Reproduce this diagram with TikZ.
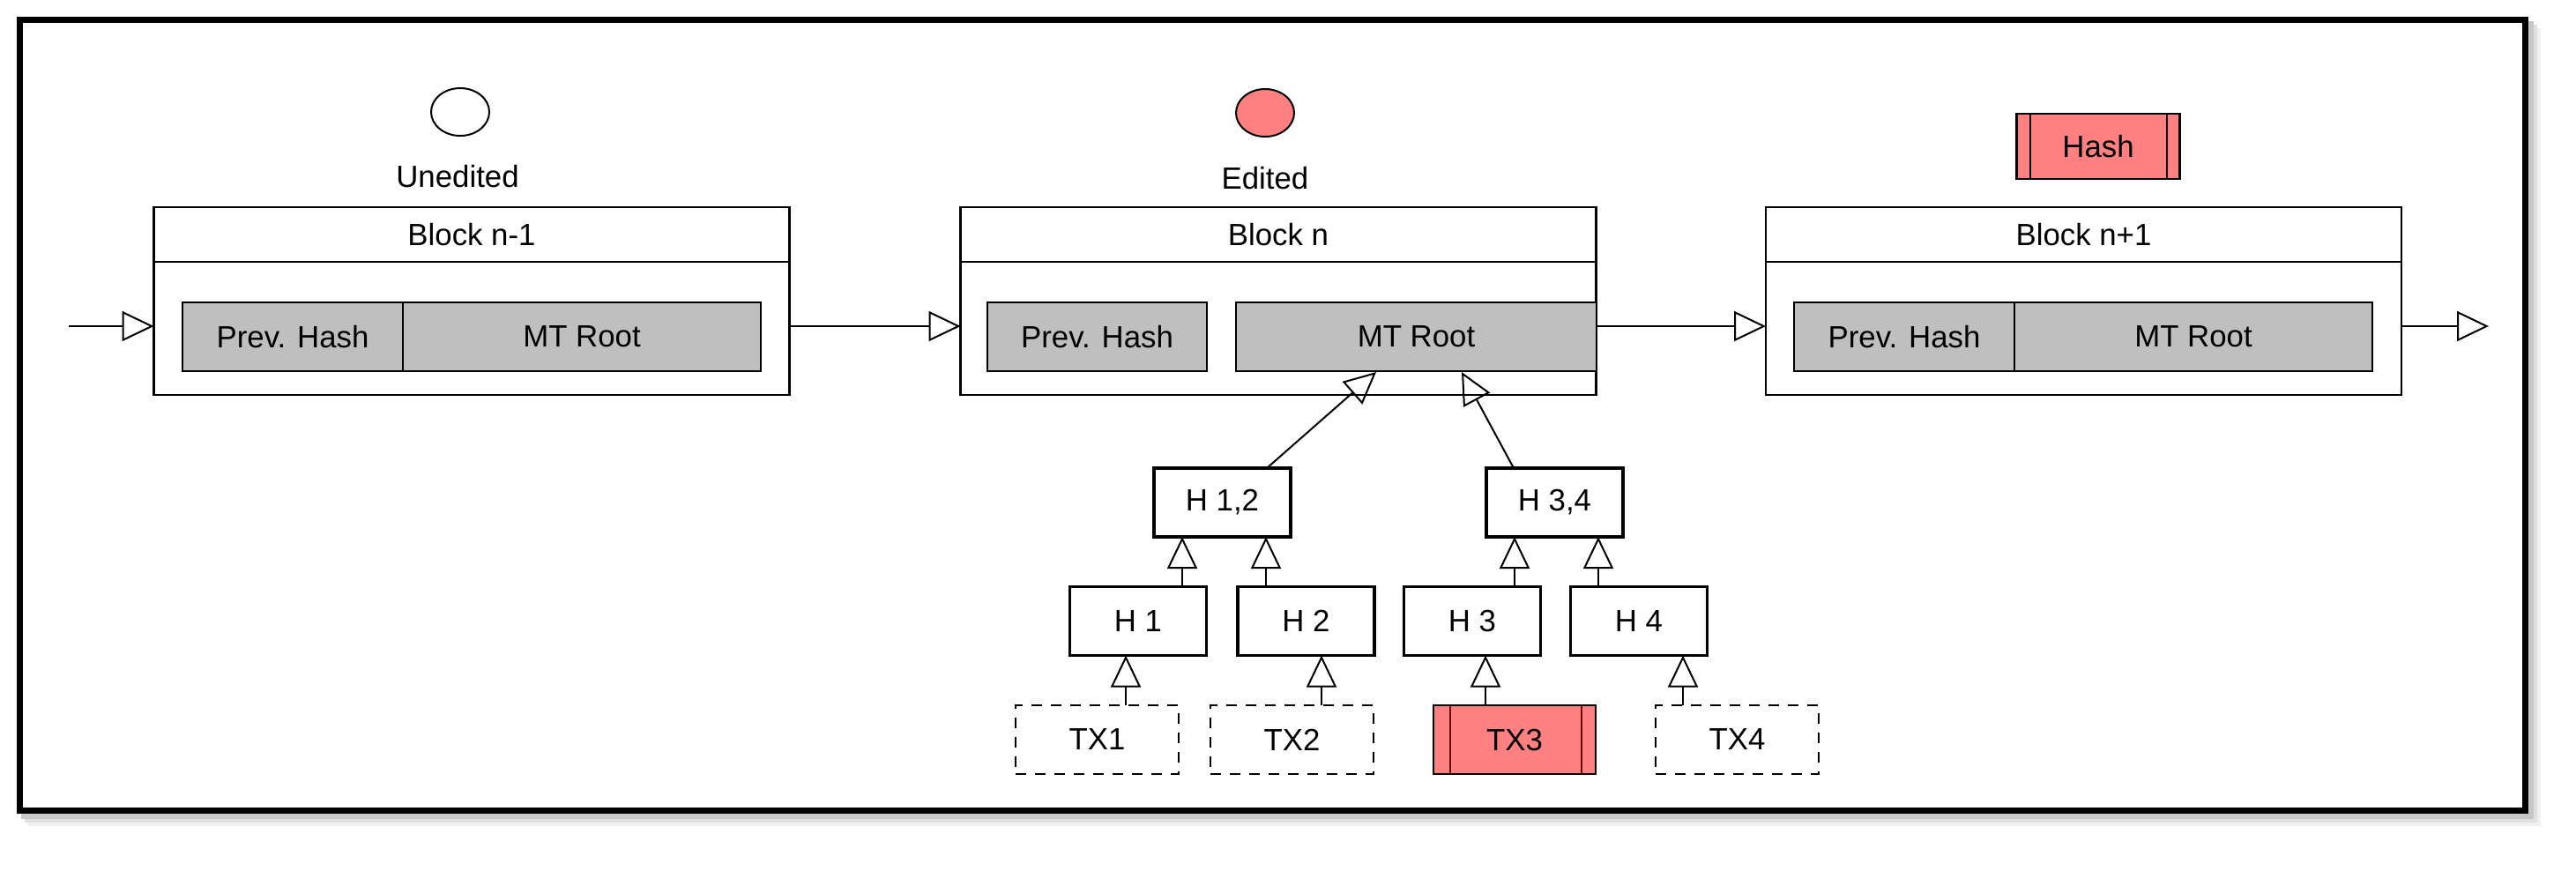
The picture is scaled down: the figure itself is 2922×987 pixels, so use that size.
\documentclass[tikz,border=0pt]{standalone}
\usepackage{fontspec}
\setmainfont{Liberation Sans}
\usetikzlibrary{arrows.meta,shapes.geometric}
\definecolor{boxgray}{HTML}{BFBFBF}
\definecolor{redfill}{HTML}{FF8080}
\begin{document}
\begin{tikzpicture}[x=0.25pt,y=-0.25pt,
  every node/.style={font=\fontsize{8.7}{10}\selectfont, inner sep=0pt, outer sep=0pt},
  blk/.style={draw, line width=0.7pt, minimum width=180.25pt, minimum height=53.25pt},
  gbox/.style={draw, line width=0.7pt, fill=boxgray, minimum height=19.5pt},
  hbox/.style={draw, line width=0.9pt, minimum width=38.75pt, minimum height=19.5pt},
  txbox/.style={draw, line width=0.6pt, dash pattern=on 3pt off 2.5pt, minimum width=46.25pt, minimum height=19.5pt},
  tri/.style={-{Triangle[open,length=9pt,width=8.5pt]}, line width=0.5pt}]
\useasboundingbox (0,0) rectangle (2922,987);
% frame with shadow
\foreach \o/\c in {14/black!6,10/black!12,6/black!22}
  \draw[line width=2pt,\c] (22+\o,22+\o) rectangle (2864+\o,919+\o);
\draw[line width=1.75pt, fill=white] (22,22) rectangle (2864,919);

% legend
\node[draw, line width=0.5pt, ellipse, minimum width=16.5pt, minimum height=13.5pt] (uc) at (522,127) {};
\node (ut) at (519,200) {Unedited};
\node[draw, line width=0.5pt, ellipse, fill=redfill, minimum width=16.5pt, minimum height=13.5pt] (ec) at (1435,128) {};
\node (et) at (1435,202) {Edited};
\node[draw, line width=0.6pt, fill=redfill, minimum width=46.25pt, minimum height=18.5pt] (hl) at (2380,166) {Hash};
\draw[line width=0.5pt] (hl.north west) ++(15,0) coordinate (hla) -- (hla |- hl.south);
\draw[line width=0.5pt] (hl.north east) ++(-15,0) coordinate (hlb) -- (hlb |- hl.south);

% blocks
\coordinate (hy) at (0,297);
\foreach \n/\cx/\t in {b1/535/Block n-1, b2/1450/Block n, b3/2363.5/Block n+1}{
  \node[blk] (\n) at (\cx,341.5) {};
  \draw[line width=0.7pt] (\n.west |- hy) -- (\n.east |- hy);
  \node (\n t) at (\cx,266) {\t};
}
\node[gbox, minimum width=62.5pt] (p1) at (332,382) {Prev. Hash};
\node[gbox, minimum width=101.5pt] (m1) at (660,382) {MT Root};
\node[gbox, minimum width=62.25pt] (p2) at (1244.5,382) {Prev. Hash};
\node[gbox, minimum width=102.25pt] (m2) at (1606.5,382) {MT Root};
\node[gbox, minimum width=62.5pt] (p3) at (2160,382) {Prev. Hash};
\node[gbox, minimum width=101.5pt] (m3) at (2488,382) {MT Root};

% chain arrows
\coordinate (in) at (78,370);
\coordinate (out) at (2823,370);
\coordinate (yl) at (0,370);
\draw[tri] (in) -- (b1.west |- yl);
\draw[tri] (b1.east |- yl) -- (b2.west |- yl);
\draw[tri] (b2.east |- yl) -- (b3.west |- yl);
\draw[tri] (b3.east |- yl) -- (out);

% tree
\node[hbox] (h12) at (1386.5,570) {H 1,2};
\node[hbox] (h34) at (1763.5,570) {H 3,4};
\node[hbox] (h1) at (1291,704.5) {H 1};
\node[hbox] (h2) at (1481.5,704.5) {H 2};
\node[hbox] (h3) at (1670,704.5) {H 3};
\node[hbox] (h4) at (1859,704.5) {H 4};
\node[txbox] (t1) at (1244.5,839) {TX1};
\node[txbox] (t2) at (1465.5,839) {TX2};
\node[draw, line width=0.6pt, fill=redfill, minimum width=46pt, minimum height=19.5pt] (t3) at (1718,839) {TX3};
\draw[line width=0.4pt, black!60!red] (t3.north west) ++(19,0) coordinate (t3a) -- (t3a |- t3.south);
\draw[line width=0.4pt, black!60!red] (t3.north east) ++(-16,0) coordinate (t3b) -- (t3b |- t3.south);
\node[txbox] (t4) at (1970.5,839) {TX4};

\foreach \x/\a/\b in {1277/t1/h1, 1499/t2/h2, 1685/t3/h3, 1909/t4/h4, 1341/h1/h12, 1436/h2/h12, 1718/h3/h34, 1813/h4/h34}{
  \coordinate (cx) at (\x,0);
  \draw[tri] (\a.north -| cx) -- (\b.south -| cx);
}
\coordinate (r1) at (1561,422);
\coordinate (r2) at (1658,422);
\coordinate (s1) at (1437,0);
\coordinate (s2) at (1717,0);
\draw[tri] (h12.north -| s1) -- (r1);
\draw[tri] (h34.north -| s2) -- (r2);
\end{tikzpicture}
\end{document}
